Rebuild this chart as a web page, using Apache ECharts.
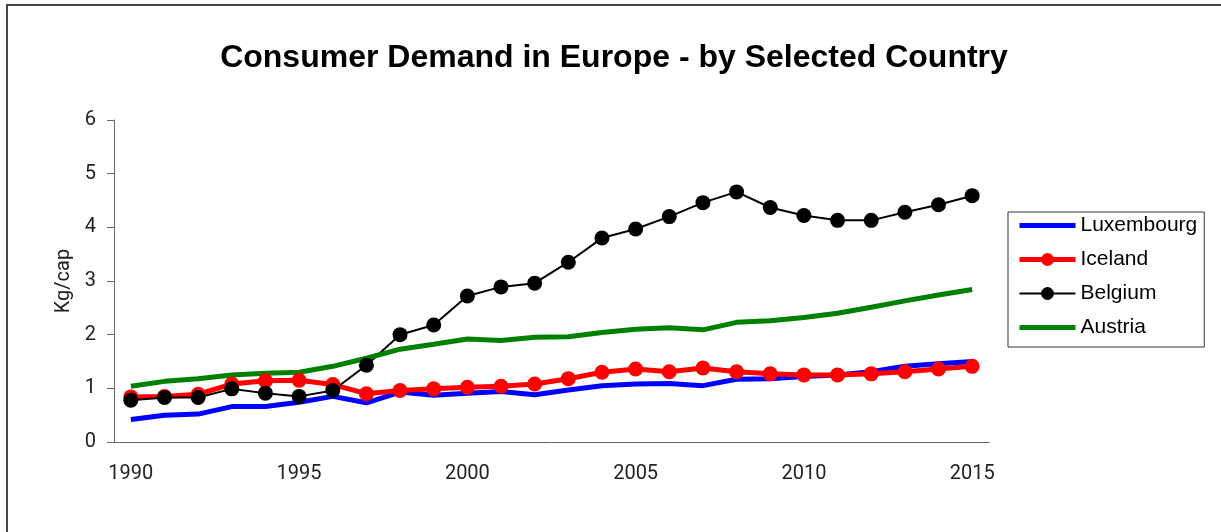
<!DOCTYPE html>
<html>
<head>
<meta charset="utf-8">
<title>Consumer Demand in Europe</title>
<script src="https://cdn.jsdelivr.net/npm/echarts@6/dist/echarts.min.js"></script>
<style>
  html, body { margin: 0; padding: 0; background: #fff; }
  #chart { width: 1221px; height: 532px; }
</style>
</head>
<body>
<div id="chart"></div>
<script>
// years on the category axis
const years = ['1990', '1991', '1992', '1993', '1994', '1995', '1996', '1997', '1998', '1999',
  '2000', '2001', '2002', '2003', '2004', '2005', '2006', '2007', '2008', '2009',
  '2010', '2011', '2012', '2013', '2014', '2015']

// Kg/cap
const luxembourg = [0.42, 0.50, 0.52, 0.66, 0.66, 0.74, 0.85, 0.73, 0.93, 0.87,
  0.91, 0.94, 0.88, 0.97, 1.05, 1.08, 1.09, 1.05, 1.17, 1.18,
  1.22, 1.25, 1.31, 1.41, 1.46, 1.50]
const iceland = [0.84, 0.85, 0.89, 1.08, 1.14, 1.15, 1.07, 0.90, 0.96, 0.99,
  1.02, 1.04, 1.08, 1.18, 1.30, 1.36, 1.31, 1.38, 1.31, 1.27,
  1.25, 1.25, 1.27, 1.31, 1.36, 1.41]
const belgium = [0.78, 0.83, 0.83, 0.99, 0.91, 0.85, 0.96, 1.43, 2.00, 2.18,
  2.72, 2.89, 2.96, 3.35, 3.80, 3.97, 4.20, 4.46, 4.66, 4.37,
  4.22, 4.13, 4.13, 4.28, 4.42, 4.59]
const austria = [1.04, 1.13, 1.18, 1.25, 1.28, 1.30, 1.41, 1.56, 1.73, 1.82,
  1.92, 1.89, 1.95, 1.96, 2.04, 2.10, 2.13, 2.09, 2.23, 2.26,
  2.32, 2.40, 2.51, 2.63, 2.74, 2.84]

const AXIS_COLOR = '#666'
const TEXT_COLOR = '#222'

const chart = echarts.init(document.getElementById('chart'))

function lineSeries(name, data, color, width, withDots) {
  return {
    name,
    type: 'line',
    data,
    symbol: withDots ? 'circle' : 'none',
    symbolSize: 15,
    showSymbol: withDots,
    itemStyle: { color },
    lineStyle: { color, width },
    emphasis: { disabled: true },
    animation: false,
  }
}

// legend entry: line width as in the plot, marker only where the series has one
function legendItem(name, width, withDots) {
  return {
    name,
    lineStyle: { width },
    itemStyle: withDots ? {} : { opacity: 0 },
  }
}

chart.setOption({
  backgroundColor: '#fff',
  title: {
    text: 'Consumer Demand in Europe - by Selected Country',
    left: 609,
    textAlign: 'center',
    top: 37,
    textStyle: { fontFamily: 'Liberation Sans, Arial', fontWeight: 'bold', fontSize: 32, color: '#000' },
  },
  // outer frame of the chart, cut off at right and bottom
  graphic: [{
    type: 'rect',
    shape: { x: 7, y: 5, width: 1300, height: 600 },
    style: { fill: 'none', stroke: '#444', lineWidth: 2 },
    silent: true,
  }],
  legend: {
    orient: 'vertical',
    left: 1008,
    top: 212,
    width: 195,
    padding: [3, 7, 9, 9],
    itemWidth: 56,
    itemHeight: 16,
    itemGap: 13,
    borderColor: '#333',
    borderWidth: 1,
    textStyle: { fontFamily: 'Liberation Sans, Arial', fontSize: 21, color: '#000' },
    data: [
      legendItem('Luxembourg', 5, false),
      legendItem('Iceland', 5, true),
      legendItem('Belgium', 2, true),
      legendItem('Austria', 5, false),
    ],
  },
  grid: { left: 114, right: 232, top: 120, bottom: 90, containLabel: false },
  xAxis: {
    type: 'category',
    data: years,
    boundaryGap: true,
    axisLine: { lineStyle: { color: AXIS_COLOR, width: 1 } },
    axisTick: { interval: 0, length: 7, lineStyle: { color: AXIS_COLOR } },
    axisLabel: { interval: 4, margin: 22, fontFamily: 'Roboto', fontSize: 20, color: TEXT_COLOR },
    splitLine: { show: false },
  },
  yAxis: {
    type: 'value',
    min: 0,
    max: 6,
    interval: 1,
    name: 'Kg/cap',
    nameLocation: 'middle',
    nameGap: 40,
    nameTextStyle: { fontFamily: 'Roboto', fontSize: 20, color: TEXT_COLOR },
    axisLine: { show: true, lineStyle: { color: AXIS_COLOR, width: 1 } },
    axisTick: { show: true, length: 7, lineStyle: { color: AXIS_COLOR } },
    axisLabel: { margin: 18, fontFamily: 'Roboto', fontSize: 20, color: TEXT_COLOR },
    splitLine: { show: false },
  },
  series: [
    lineSeries('Luxembourg', luxembourg, '#0000ff', 5, false),
    lineSeries('Iceland', iceland, '#ff0000', 5, true),
    lineSeries('Belgium', belgium, '#000000', 2, true),
    lineSeries('Austria', austria, '#008000', 5, false),
  ],
})
</script>
</body>
</html>
